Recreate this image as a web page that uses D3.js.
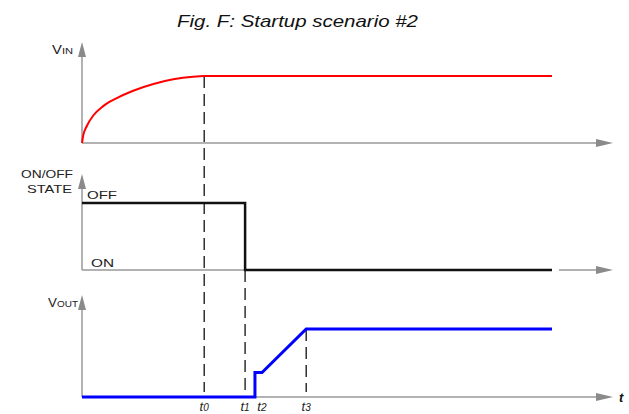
<!DOCTYPE html>
<html>
<head>
<meta charset="utf-8">
<script src="https://cdnjs.cloudflare.com/ajax/libs/d3/7.8.5/d3.min.js"></script>
<style>
  body { margin: 0; background: #fff; }
  text { font-family: "Liberation Sans", Arial, sans-serif; }
</style>
</head>
<body>
<div id="chart"></div>
<script>
var width = 629;
var height = 414;

// time markers (arbitrary units, 0..100 = curve span)
var markers = [
  {name: "t", sub: "0", t: 26.0},
  {name: "t", sub: "1", t: 34.7},
  {name: "t", sub: "2", t: 36.8},
  {name: "t", sub: "3", t: 47.7}
];

// VIN rise, normalised 0..1
var vinT = [0, 0.25, 1.0, 2.4, 4.5, 7.4, 10.9, 15.2, 19.4, 23.6, 26.0, 100];
var vinV = [0, 0.11, 0.25, 0.41, 0.55, 0.67, 0.78, 0.88, 0.95, 0.99, 1.0, 1.0];

// ON/OFF state, 1 = OFF, 0 = ON
var stateT = [0, 34.7, 34.7, 100];
var stateV = [1, 1, 0, 0];

// VOUT, normalised 0..1
var voutT = [0, 36.8, 36.8, 38.3, 47.7, 100];
var voutV = [0, 0, 0.36, 0.36, 1.0, 1.0];

var x = d3.scaleLinear().domain([0, 100]).range([82, 552]);
var axisEnd = 613;

var panels = [
  {base: 143, top: 76, tip: 42},
  {base: 270, top: 203, tip: 174},
  {base: 397, top: 329, tip: 295}
];
var ys = panels.map(function(p){
  return d3.scaleLinear().domain([0, 1]).range([p.base, p.top]);
});

var svg = d3.select("#chart").append("svg")
  .attr("width", width)
  .attr("height", height);

var gray = "#999999";
var arrowGray = "#8a8a8a";

// stretched text helper (source artwork uses horizontally widened type)
var label = function(xx, yy, str, size, len, anchor){
  return svg.append("text")
    .attr("x", xx).attr("y", yy)
    .attr("text-anchor", anchor || "start")
    .attr("font-size", size + "px")
    .attr("fill", "#222")
    .attr("textLength", len)
    .attr("lengthAdjust", "spacingAndGlyphs")
    .text(str);
};

// title
label(177, 27, "Fig. F: Startup scenario #2", 17, 241)
  .attr("font-style", "italic").attr("fill", "#111");

// axes
var drawAxes = function(p, i){
  var g = svg.append("g").attr("class", "axes");
  var x0 = x(0);
  g.append("line")
    .attr("x1", x0).attr("x2", x0)
    .attr("y1", p.base).attr("y2", p.tip + 12)
    .style("stroke", gray).attr("stroke-width", 1.5);
  g.append("path")
    .attr("d", "M" + x0 + "," + p.tip + "L" + (x0 + 4) + "," + (p.tip + 15) + "L" + (x0 - 4) + "," + (p.tip + 15) + "Z")
    .attr("fill", arrowGray);
  if(i == 1){
    g.append("line")
      .attr("x1", x0).attr("x2", x(stateT[1]))
      .attr("y1", p.base).attr("y2", p.base)
      .style("stroke", gray).attr("stroke-width", 1.5);
    g.append("line")
      .attr("x1", x(100) + 7).attr("x2", axisEnd - 14)
      .attr("y1", p.base).attr("y2", p.base)
      .style("stroke", gray).attr("stroke-width", 1.5);
  }else{
    g.append("line")
      .attr("x1", x0).attr("x2", axisEnd - 14)
      .attr("y1", p.base).attr("y2", p.base)
      .style("stroke", gray).attr("stroke-width", 1.5);
  }
  g.append("path")
    .attr("d", "M" + axisEnd + "," + p.base + "L" + (axisEnd - 17) + "," + (p.base - 4) + "L" + (axisEnd - 17) + "," + (p.base + 4) + "Z")
    .attr("fill", arrowGray);
};
panels.forEach(drawAxes);

// dashed marker lines
var dashTop = [ys[0](1), ys[1](0), null, ys[2](1)];
markers.forEach(function(m, i){
  if(dashTop[i] === null){ return; }
  svg.append("line")
    .attr("x1", x(m.t)).attr("x2", x(m.t))
    .attr("y1", dashTop[i]).attr("y2", 392)
    .style("stroke", "#111")
    .attr("stroke-width", 1.3)
    .attr("stroke-dasharray", "12,6");
});

// signals
var zip = function(ts, vs){ return ts.map(function(t, i){ return [t, vs[i]]; }); };

var vinLine = d3.line()
  .x(function(d){ return x(d[0]); })
  .y(function(d){ return ys[0](d[1]); })
  .curve(d3.curveMonotoneX);
svg.append("path")
  .attr("d", vinLine(zip(vinT, vinV)))
  .attr("fill", "none").style("stroke", "#ff0000").attr("stroke-width", 2);

var stateLine = d3.line()
  .x(function(d){ return x(d[0]); })
  .y(function(d){ return ys[1](d[1]); });
svg.append("path")
  .attr("d", stateLine(zip(stateT, stateV)))
  .attr("fill", "none").style("stroke", "#111").attr("stroke-width", 2.5);

var voutLine = d3.line()
  .x(function(d){ return x(d[0]); })
  .y(function(d){ return ys[2](d[1]); });
svg.append("path")
  .attr("d", voutLine(zip(voutT, voutV)))
  .attr("fill", "none").style("stroke", "#0000ff").attr("stroke-width", 3);

// axis labels
var vlabel = function(xx, yy, main, sub, len){
  var t = svg.append("text")
    .attr("x", xx).attr("y", yy)
    .attr("fill", "#222")
    .attr("textLength", len)
    .attr("lengthAdjust", "spacingAndGlyphs");
  t.append("tspan").attr("font-size", "12px").text(main);
  t.append("tspan").attr("font-size", "9px").text(sub);
};
vlabel(52, 54, "V", "IN", 21);
vlabel(48, 307, "V", "OUT", 30);

label(21, 178, "ON/OFF", 11.5, 52);
label(27, 193, "STATE", 11.5, 45);
label(87, 199, "OFF", 11.5, 30);
label(91, 267, "ON", 11.5, 23);

markers.forEach(function(m, i){
  var t = svg.append("text")
    .attr("x", x(m.t) + (i == 2 ? 7 : 0)).attr("y", 411)
    .attr("text-anchor", "middle")
    .attr("font-style", "italic")
    .attr("fill", "#222");
  t.append("tspan").attr("font-size", "13px").text(m.name);
  t.append("tspan").attr("font-size", "10px").text(m.sub);
});

svg.append("text")
  .attr("x", 619).attr("y", 402)
  .attr("font-size", "13px").attr("font-style", "italic").attr("font-weight", "bold")
  .attr("fill", "#111").text("t");
</script>
</body>
</html>
